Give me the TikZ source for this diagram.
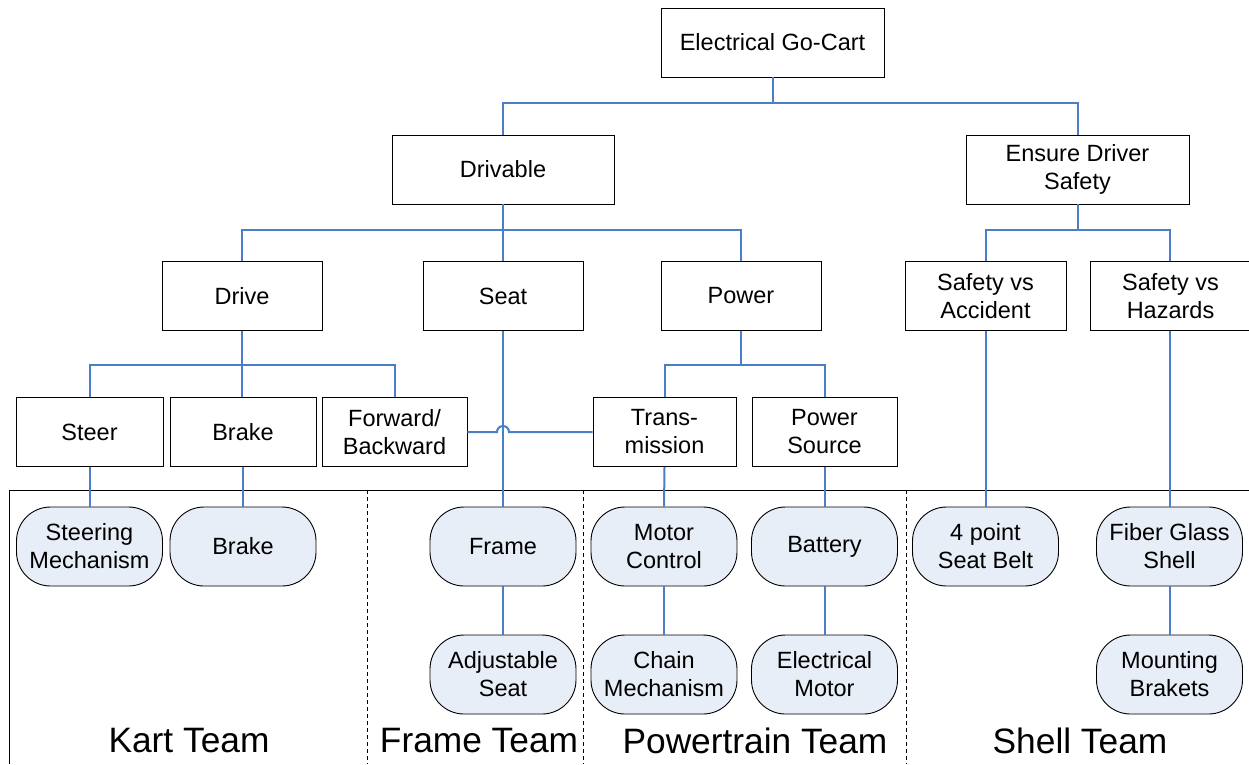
\documentclass[tikz,border=0pt]{standalone}
\usepackage{fontspec}
\setmainfont{Liberation Sans}
\usetikzlibrary{calc}
\definecolor{linkblue}{HTML}{4A7EC7}
\definecolor{leaffill}{HTML}{E8EEF8}
\tikzset{
  box/.style={draw=black, line width=0.9pt, fill=white, minimum width=#1, minimum height=69, inner sep=0pt, align=center, font=\fontsize{23.5}{28}\selectfont},
  box/.default=160,
  leaf/.style={draw=black, line width=0.9pt, fill=leaffill, rounded corners=34, minimum width=146, minimum height=79, inner sep=0pt, align=center, font=\fontsize{23.5}{28}\selectfont},
  link/.style={draw=linkblue, line width=2pt},
  frameline/.style={draw=black, line width=0.9pt},
  sepline/.style={draw=black, line width=0.8pt, dash pattern=on 4pt off 3pt},
  team/.style={font=\fontsize{35.3}{40}\selectfont, inner sep=0pt}
}
\begin{document}
\begin{tikzpicture}[x=1pt,y=-1pt]
\useasboundingbox (0,0) rectangle (1249,764);
% frame and separators
\draw[frameline] (9,764) -- (9,490) -- (1249,490);
\draw[sepline] (367,490) -- (367,764);
\draw[sepline] (583,490) -- (583,764);
\draw[sepline] (906,490) -- (906,764);
% level 0
\node[box=223] (go) at (772.5,42.5) {Electrical Go-Cart};
% level 1
\node[box=222] (drv) at (503,169.5) {Drivable};
\node[box=223] (eds) at (1077.5,169.5) {Ensure Driver\\Safety};
% level 2
\node[box] (drive) at (242,296) {Drive};
\node[box] (seat) at (503,296) {Seat};
\node[box] (power) at (741,296) {Power};
\node[box=161] (sva) at (985.5,296) {Safety vs\\Accident};
\node[box=161] (svh) at (1170.5,296) {Safety vs\\Hazards};
% level 3
\node[box=147] (steer) at (89.5,432) {Steer};
\node[box=146] (brake) at (243,432) {Brake};
\node[box=145] (fb) at (394.5,432) {Forward/\\Backward};
\node[box=143] (tr) at (664.5,432) {Trans-\\mission};
\node[box=145] (ps) at (824.5,432) {Power\\Source};
% leaves
\node[leaf] (sm) at (89.5,546.5) {Steering\\Mechanism};
\node[leaf] (bk) at (243,546.5) {Brake};
\node[leaf] (fr) at (503,546.5) {Frame};
\node[leaf] (as) at (503,674.5) {Adjustable\\Seat};
\node[leaf] (mc) at (664,546.5) {Motor\\Control};
\node[leaf] (cm) at (664,674.5) {Chain\\Mechanism};
\node[leaf] (bt) at (824.5,546.5) {Battery};
\node[leaf] (em) at (824.5,674.5) {Electrical\\Motor};
\node[leaf] (sb) at (985.5,546.5) {4 point\\Seat Belt};
\node[leaf] (fg) at (1169.5,546.5) {Fiber Glass\\Shell};
\node[leaf] (mb) at (1169.5,674.5) {Mounting\\Brakets};
% team labels
\node[team] (tk) at (189,741) {Kart Team};
\node[team] (tf) at (479,741) {Frame Team};
\node[team] (tp) at (755,741) {Powertrain Team};
\node[team] (ts) at (1080,741) {Shell Team};
% connectors
\draw[link] (go.south) -- ++(0,26) -| (drv.north);
\draw[link] (go.south) -- ++(0,26) -| (eds.north);
\draw[link] (drv.south) -- ++(0,26) -| (drive.north);
\draw[link] (drv.south) -- (seat.north);
\draw[link] (drv.south) -- ++(0,26) -| (power.north);
\draw[link] (eds.south) -- ++(0,26) -| (sva.north);
\draw[link] (eds.south) -- ++(0,26) -| (svh.north -| fg.north);
\draw[link] (drive.south) -- ++(0,34) -| (steer.north);
\draw[link] (drive.south) -- (brake.north -| drive.south);
\draw[link] (drive.south) -- ++(0,34) -| (fb.north);
\draw[link] (power.south) -- ++(0,34) -| (tr.north);
\draw[link] (power.south) -- ++(0,34) -| (ps.north);
\draw[link] (seat.south) -- (fr.north);
\coordinate (j1) at ($(seat.south |- fb.east)+(-6,0)$);
\draw[link] (fb.east) -- (j1) arc (180:360:6) -- (tr.west);
\draw[link] (steer.south) -- (sm.north);
\draw[link] (brake.south) -- (bk.north);
\draw[link] (fr.south) -- (as.north);
\draw[link] (tr.south) -- (mc.north);
\draw[link] (mc.south) -- (cm.north);
\draw[link] (ps.south) -- (bt.north);
\draw[link] (bt.south) -- (em.north);
\draw[link] (sva.south) -- (sb.north);
\draw[link] (svh.south -| fg.north) -- (fg.north);
\draw[link] (fg.south) -- (mb.north);
\end{tikzpicture}
\end{document}
